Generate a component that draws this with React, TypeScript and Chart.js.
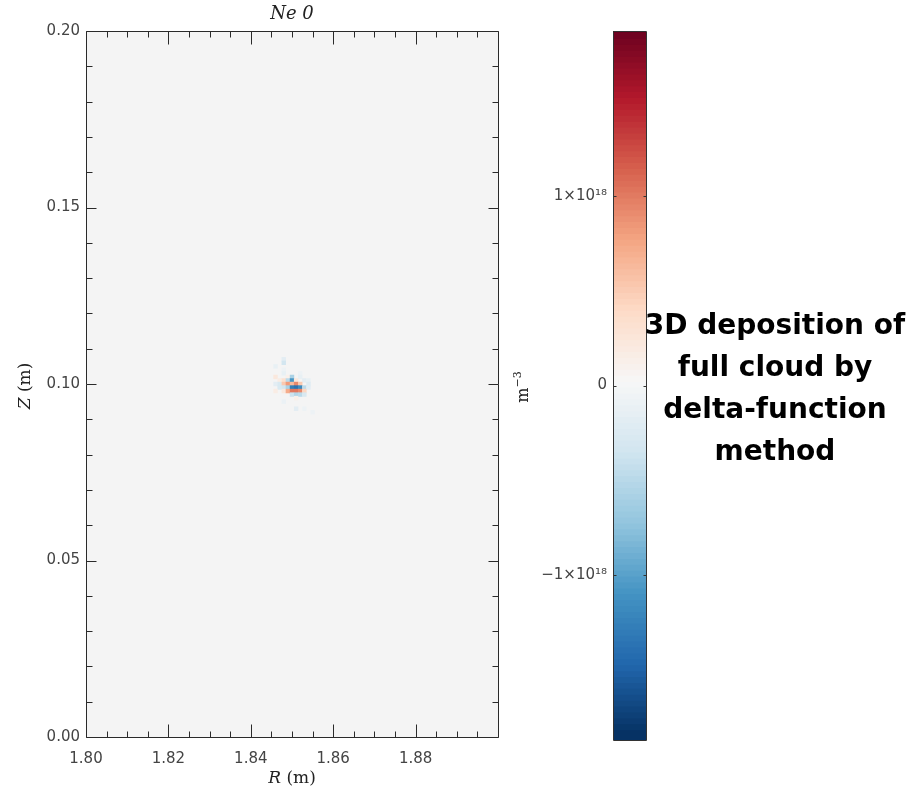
import { useEffect, useRef } from 'react';
import { Chart, registerables } from 'chart.js';
Chart.register(...registerables);

// ---- data ----
const R_MIN = 1.8;
const R_MAX = 1.9;
const Z_MIN = 0.0;
const Z_MAX = 0.2;
const X_MAJOR = [1.8, 1.82, 1.84, 1.86, 1.88];
const X_MINOR = [1.805, 1.81, 1.815, 1.825, 1.83, 1.835, 1.845, 1.85, 1.855, 1.865, 1.87, 1.875, 1.885, 1.89, 1.895];
const Y_MAJOR = [0.0, 0.05, 0.1, 0.15, 0.2];
const Y_MINOR = [0.01, 0.02, 0.03, 0.04, 0.06, 0.07, 0.08, 0.09, 0.11, 0.12, 0.13, 0.14, 0.16, 0.17, 0.18, 0.19];
const CB_TICKS = [-1, 0, 1];
const CB_LABELS = ['\u22121\u00d710\u00b9\u2078', '0', '1\u00d710\u00b9\u2078'];
const V_MAX = 1.87; // colour scale limit, 1e18 m^-3

// cell centres of the deposited cloud
const R_CELLS = [1.844, 1.845, 1.846, 1.847, 1.848, 1.849, 1.85, 1.851, 1.852, 1.853, 1.854, 1.855, 1.856, 1.857];
const Z_CELLS = [0.108, 0.107, 0.106, 0.105, 0.104, 0.103, 0.102, 0.101, 0.1, 0.099, 0.098, 0.097, 0.096, 0.095, 0.094, 0.093, 0.092];
// density in 1e18 m^-3, rows follow Z_CELLS, columns follow R_CELLS
const DENSITY = [
  [0, 0, 0, 0, 0, 0, 0, 0, 0, 0, 0, 0, 0, 0],
  [0, 0, 0, 0, -0.2, 0, 0, 0, 0, 0, 0, 0, 0, 0],
  [0, 0, 0, 0, -0.35, 0, 0, 0, 0, 0, 0, 0, 0, 0],
  [0, 0, -0.15, 0, 0, 0, 0, 0, 0, 0, 0, 0, 0, 0],
  [0, 0, 0, 0, -0.1, 0, 0, 0, 0, 0, 0, 0, 0, 0],
  [0, 0, 0, 0, -0.15, 0, 0, 0, -0.1, 0, 0, 0, 0, 0],
  [0, 0, 0.2, 0, 0, 0.1, -0.6, 0, -0.15, 0, 0, 0, 0, 0],
  [0, 0, 0, 0.15, 0.3, -0.5, -1.1, 0.2, 0, -0.2, -0.15, 0, 0, 0],
  [0, 0, -0.2, -0.3, 0.5, 0.8, 0.6, 0.9, 0.5, 0, -0.25, 0, 0, 0],
  [0, 0, 0, -0.3, -0.35, -0.6, -1.3, -1.4, -1.2, -0.5, -0.2, 0, 0, 0],
  [0, 0, 0.15, 0, 0.2, 0.7, 1.0, 1.0, 0.9, 0.4, 0, 0, 0, 0],
  [0, 0, 0, 0, 0, 0, -0.4, -0.55, -0.5, -0.3, 0, 0, 0, 0],
  [0, 0, 0, 0, 0, 0, 0, 0.1, 0, 0, 0, 0, 0, 0],
  [0, 0, 0, 0, -0.12, 0, 0, 0, 0, 0, 0, 0, 0, 0],
  [0, 0, 0, 0, 0, 0, 0, 0, 0, 0, 0, 0, 0, 0],
  [0, 0, 0, 0, 0, 0, 0, -0.2, 0, -0.1, 0, 0, 0, 0],
  [0, 0, 0, 0, 0, 0, 0, 0, 0, 0, 0, -0.1, 0, 0],
];

const RDBU = ['#053061', '#2166ac', '#4393c3', '#92c5de', '#d1e5f0', '#f7f7f7', '#fddbc7', '#f4a582', '#d6604d', '#b2182b', '#67001f'];

function hexToRgb(h: string) {
  return [parseInt(h.slice(1, 3), 16), parseInt(h.slice(3, 5), 16), parseInt(h.slice(5, 7), 16)];
}
function colorFor(v: number) {
  let t = (v / V_MAX + 1) / 2;
  t = Math.max(0, Math.min(1, t)) * (RDBU.length - 1);
  const i = Math.min(RDBU.length - 2, Math.floor(t));
  const f = t - i;
  const a = hexToRgb(RDBU[i]);
  const b = hexToRgb(RDBU[i + 1]);
  const c = a.map((x, k) => Math.round(x + (b[k] - x) * f));
  return `rgb(${c[0]},${c[1]},${c[2]})`;
}

const TICK_FONT = { family: 'DejaVu Sans', size: 15 };
const TICK_COLOR = '#444';
const LINE_COLOR = '#2a2a2a';

type Part = { text: string; font: string; dy?: number };
function drawParts(ctx: CanvasRenderingContext2D, parts: Part[], cx: number, cy: number, angle = 0, color = '#222') {
  ctx.save();
  ctx.translate(cx, cy);
  ctx.rotate(angle);
  ctx.textBaseline = 'middle';
  ctx.textAlign = 'left';
  ctx.fillStyle = color;
  const widths = parts.map((p) => {
    ctx.font = p.font;
    return ctx.measureText(p.text).width;
  });
  const total = widths.reduce((s, w) => s + w, 0);
  let x = -total / 2;
  parts.forEach((p, i) => {
    ctx.font = p.font;
    ctx.fillText(p.text, x, p.dy || 0);
    x += widths[i];
  });
  ctx.restore();
}

const mainPlugin = {
  id: 'mainDecor',
  beforeDatasetsDraw(chart: any) {
    const { ctx, chartArea: a } = chart;
    ctx.save();
    ctx.fillStyle = '#f4f4f4';
    ctx.fillRect(a.left, a.top, a.right - a.left, a.bottom - a.top);
    ctx.restore();
  },
  afterDraw(chart: any) {
    const { ctx, chartArea: a, scales } = chart;
    const xs = scales.x;
    const ys = scales.y;
    ctx.save();
    ctx.strokeStyle = LINE_COLOR;
    ctx.lineWidth = 1;
    ctx.beginPath();
    const L = Math.round(a.left) + 0.5;
    const R = Math.round(a.right) + 0.5;
    const T = Math.round(a.top) + 0.5;
    const B = Math.round(a.bottom) + 0.5;
    ctx.rect(L, T, R - L, B - T);
    const xt = (vals: number[], len: number) => {
      vals.forEach((v) => {
        const p = Math.round(xs.getPixelForValue(v)) + 0.5;
        ctx.moveTo(p, B);
        ctx.lineTo(p, B - len);
        ctx.moveTo(p, T);
        ctx.lineTo(p, T + len);
      });
    };
    const yt = (vals: number[], len: number) => {
      vals.forEach((v) => {
        const p = Math.round(ys.getPixelForValue(v)) + 0.5;
        ctx.moveTo(L, p);
        ctx.lineTo(L + len, p);
        ctx.moveTo(R, p);
        ctx.lineTo(R - len, p);
      });
    };
    xt(X_MAJOR, 13);
    xt(X_MINOR, 6);
    yt(Y_MAJOR, 10);
    yt(Y_MINOR, 6);
    ctx.stroke();
    ctx.restore();

    const cx = (a.left + a.right) / 2;
    drawParts(ctx, [{ text: 'Ne 0', font: 'italic 18px "DejaVu Serif"' }], cx, 14);
    drawParts(
      ctx,
      [
        { text: 'R', font: 'italic 17px "DejaVu Serif"' },
        { text: ' (m)', font: '17px "DejaVu Serif"' },
      ],
      cx,
      779
    );
    drawParts(
      ctx,
      [
        { text: 'Z', font: 'italic 17px "DejaVu Serif"' },
        { text: ' (m)', font: '17px "DejaVu Serif"' },
      ],
      26,
      386,
      -Math.PI / 2
    );
  },
};

const cbPlugin = {
  id: 'cbDecor',
  afterDraw(chart: any) {
    const { ctx, chartArea: a, scales } = chart;
    const ys = scales.y;
    ctx.save();
    ctx.strokeStyle = '#333';
    ctx.lineWidth = 1;
    const L = Math.round(a.left) + 0.5;
    const R = Math.round(a.right) + 0.5;
    const T = Math.round(a.top) + 0.5;
    const B = Math.round(a.bottom) + 0.5;
    ctx.beginPath();
    ctx.rect(L, T, R - L, B - T);
    CB_TICKS.forEach((v) => {
      const p = Math.round(ys.getPixelForValue(v)) + 0.5;
      ctx.moveTo(L, p);
      ctx.lineTo(L + 3, p);
      ctx.moveTo(R, p);
      ctx.lineTo(R - 3, p);
    });
    ctx.stroke();
    ctx.restore();
    drawParts(
      ctx,
      [
        { text: 'm', font: '16px "DejaVu Serif"' },
        { text: '\u22123', font: '11px "DejaVu Serif"', dy: -6 },
      ],
      524,
      387,
      -Math.PI / 2
    );
  },
};

export default function App() {
  const mainRef = useRef<HTMLCanvasElement>(null);
  const cbRef = useRef<HTMLCanvasElement>(null);

  useEffect(() => {
    const cells: { x: number; y: number; v: number }[] = [];
    DENSITY.forEach((row, j) =>
      row.forEach((v, i) => {
        if (v !== 0) cells.push({ x: R_CELLS[i], y: Z_CELLS[j], v });
      })
    );
    const dR = R_CELLS[1] - R_CELLS[0];

    const main = new Chart(mainRef.current!, {
      type: 'scatter',
      data: {
        datasets: [
          {
            data: cells as any,
            pointStyle: 'rect',
            borderWidth: 0,
            pointRadius: (c: any) => {
              const xs = c.chart.scales.x;
              if (!xs) return 3;
              const w = Math.abs(xs.getPixelForValue(R_MIN + dR) - xs.getPixelForValue(R_MIN));
              return (w + 0.3) / Math.SQRT2;
            },
            backgroundColor: (c: any) => colorFor(c.raw ? c.raw.v : 0),
          } as any,
        ],
      },
      options: {
        animation: false,
        responsive: false,
        events: [],
        layout: { padding: { left: 0, top: 31, right: 412, bottom: 0 } },
        plugins: { legend: { display: false }, tooltip: { enabled: false }, title: { display: false } },
        scales: {
          x: {
            type: 'linear',
            min: R_MIN,
            max: R_MAX,
            afterFit: (s: any) => {
              s.height = 52;
            },
            afterBuildTicks: (s: any) => {
              s.ticks = X_MAJOR.map((value) => ({ value }));
            },
            ticks: {
              autoSkip: false,
              maxRotation: 0,
              padding: 13,
              font: TICK_FONT,
              color: TICK_COLOR,
              callback: (v: any) => Number(v).toFixed(2),
            },
            grid: { display: false, drawTicks: false },
            border: { display: false },
          },
          y: {
            type: 'linear',
            min: Z_MIN,
            max: Z_MAX,
            afterFit: (s: any) => {
              s.width = 86;
            },
            afterBuildTicks: (s: any) => {
              s.ticks = Y_MAJOR.map((value) => ({ value }));
            },
            ticks: {
              autoSkip: false,
              padding: 6,
              font: TICK_FONT,
              color: TICK_COLOR,
              callback: (v: any) => Number(v).toFixed(2),
            },
            grid: { display: false, drawTicks: false },
            border: { display: false },
          },
        },
      } as any,
      plugins: [mainPlugin],
    });

    const nLevels = 120;
    const step = (2 * V_MAX) / nLevels;
    const cbDatasets = Array.from({ length: nLevels }, (_, k) => {
      const lo = -V_MAX + k * step;
      return {
        data: [[lo, lo + step * 1.6]],
        backgroundColor: colorFor(lo + step / 2),
        borderWidth: 0,
        grouped: false,
        barPercentage: 1,
        categoryPercentage: 1,
      };
    });

    const cb = new Chart(cbRef.current!, {
      type: 'bar',
      data: { labels: ['cb'], datasets: cbDatasets as any },
      options: {
        animation: false,
        responsive: false,
        events: [],
        layout: { padding: { left: 0, top: 31, right: 264, bottom: 49 } },
        plugins: { legend: { display: false }, tooltip: { enabled: false } },
        scales: {
          x: { display: false },
          y: {
            type: 'linear',
            min: -V_MAX,
            max: V_MAX,
            afterFit: (s: any) => {
              s.width = 613;
            },
            afterBuildTicks: (s: any) => {
              s.ticks = CB_TICKS.map((value) => ({ value }));
            },
            ticks: {
              autoSkip: false,
              padding: 6,
              font: TICK_FONT,
              color: TICK_COLOR,
              callback: (_v: any, i: number) => CB_LABELS[i],
            },
            grid: { display: false, drawTicks: false },
            border: { display: false },
          },
        },
      } as any,
      plugins: [cbPlugin],
    });

    return () => {
      main.destroy();
      cb.destroy();
    };
  }, []);

  const abs: any = { position: 'absolute', left: 0, top: 0, width: 910, height: 789 };
  return (
    <div style={{ ...abs, background: '#fff' }}>
      <canvas ref={mainRef} width={910} height={789} style={abs} />
      <canvas ref={cbRef} width={910} height={789} style={abs} />
      <div
        style={{
          position: 'absolute',
          left: 640,
          top: 304,
          width: 270,
          textAlign: 'center',
          fontFamily: '"DejaVu Sans", sans-serif',
          fontWeight: 'bold',
          fontSize: 28,
          lineHeight: '42px',
          color: '#000',
        }}
      >
        3D deposition of
        <br />
        full cloud by
        <br />
        delta-function
        <br />
        method
      </div>
    </div>
  );
}
